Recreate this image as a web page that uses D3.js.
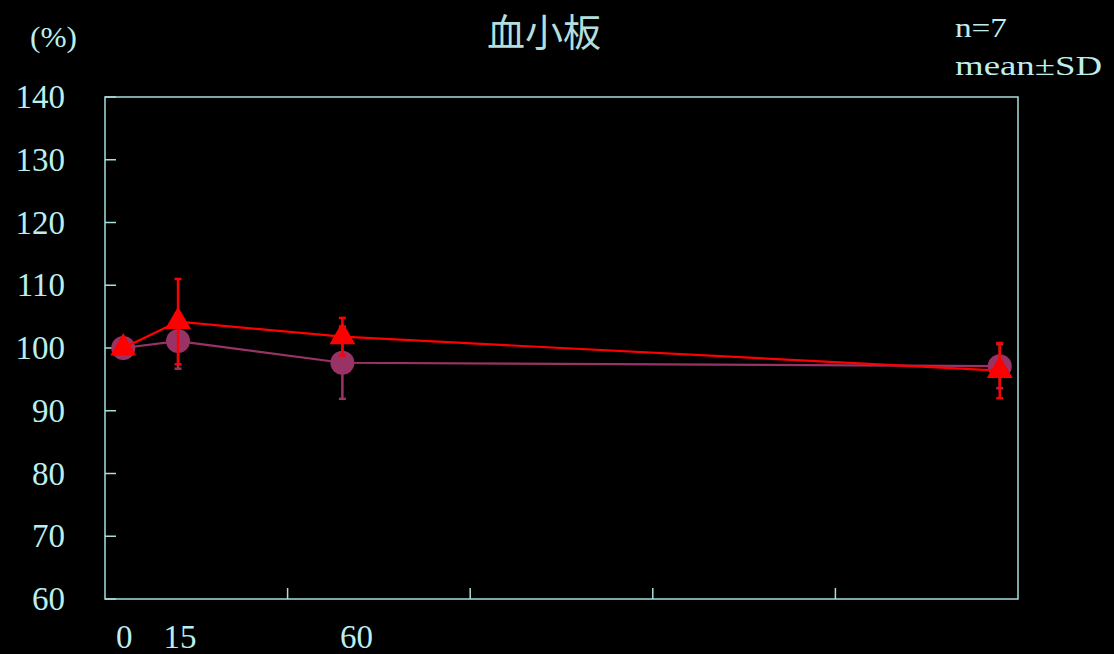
<!DOCTYPE html>
<html>
<head>
<meta charset="utf-8">
<script src="https://cdn.jsdelivr.net/npm/d3@7/dist/d3.min.js"></script>
<style>
  html, body { margin: 0; padding: 0; background: #000; }
  svg { display: block; }
</style>
</head>
<body>
<svg id="chart" width="1114" height="654"></svg>
<script>
// Time points (min) and tick labels
const times = [0, 15, 60, 240];
const xLabels = [0, 15, 60];
const yTicks = [60, 70, 80, 90, 100, 110, 120, 130, 140];

// Series: circles (maroon) and triangles (red), mean and SD in %
const circleMean = [100, 101.1, 97.65, 97.1];
const circleSD   = [0, 4.4, 5.75, 3.5];
const triMean    = [100, 104.2, 101.8, 96.4];
const triSD      = [0, 6.8, 3.0, 4.4];

const axisColor = "#a8dede";
const textColor = "#bdeeee";
const circleColor = "#993366";
const triColor = "#ff0000";
const serif = "Liberation Serif";

const svg = d3.select("#chart");
const plotL = 105, plotR = 1018, plotT = 97, plotB = 599;

const x = d3.scaleLinear().domain([-5, 245]).range([plotL, plotR]);
const y = d3.scaleLinear().domain([60, 140]).range([plotB, plotT]);

// Frame
svg.append("rect")
  .attr("x", plotL).attr("y", plotT)
  .attr("width", plotR - plotL).attr("height", plotB - plotT)
  .attr("fill", "none").attr("stroke", axisColor).attr("stroke-width", 1.5);

// Y axis ticks (inward) and labels
svg.append("g").selectAll("line").data(yTicks).join("line")
  .attr("x1", plotL).attr("x2", plotL + 11)
  .attr("y1", d => y(d)).attr("y2", d => y(d))
  .attr("stroke", axisColor).attr("stroke-width", 1.5);

svg.append("g").selectAll("text").data(yTicks).join("text")
  .attr("x", 65).attr("y", d => y(d))
  .attr("dy", "0.34em")
  .attr("text-anchor", "end")
  .attr("font-family", serif)
  .attr("font-size", 33)
  .attr("fill", textColor)
  .text(d => d);

// X axis ticks: five equal divisions of the axis
const xTickVals = d3.range(1, 5).map(i => -5 + i * 50);
svg.append("g").selectAll("line").data(xTickVals).join("line")
  .attr("x1", d => x(d)).attr("x2", d => x(d))
  .attr("y1", plotB).attr("y2", plotB - 11)
  .attr("stroke", axisColor).attr("stroke-width", 1.5);

const labelNudge = { 0: 1, 15: 2, 60: 14 };
svg.append("g").selectAll("text").data(xLabels).join("text")
  .attr("x", d => x(d) + labelNudge[d]).attr("y", 648)
  .attr("text-anchor", "middle")
  .attr("font-family", serif)
  .attr("font-size", 33)
  .attr("fill", textColor)
  .text(d => d);

// Titles and annotations
svg.append("text")
  .attr("x", 544).attr("y", 46)
  .attr("text-anchor", "middle")
  .attr("font-family", "Noto Sans CJK JP")
  .attr("font-size", 38)
  .attr("fill", "#b4dede")
  .text("血小板");

svg.append("text")
  .attr("x", 30).attr("y", 47)
  .attr("font-family", serif)
  .attr("font-size", 30)
  .attr("textLength", 47).attr("lengthAdjust", "spacingAndGlyphs")
  .attr("fill", textColor)
  .text("(%)");

svg.append("text")
  .attr("x", 955).attr("y", 37)
  .attr("font-family", serif)
  .attr("font-size", 27)
  .attr("textLength", 52).attr("lengthAdjust", "spacingAndGlyphs")
  .attr("fill", textColor)
  .text("n=7");

svg.append("text")
  .attr("x", 955).attr("y", 75)
  .attr("font-family", serif)
  .attr("font-size", 27)
  .attr("textLength", 147).attr("lengthAdjust", "spacingAndGlyphs")
  .attr("fill", textColor)
  .text("mean±SD");

const rows = (means, sds) => times.map((t, i) => ({ t, m: means[i], sd: sds[i] }));
const circles = rows(circleMean, circleSD);
const tris = rows(triMean, triSD);

const line = d3.line().x(d => x(d.t)).y(d => y(d.m));

function drawErrors(g, data, color) {
  const withSD = data.filter(d => d.sd > 0);
  g.selectAll("line.err").data(withSD).join("line").attr("class", "err")
    .attr("x1", d => x(d.t)).attr("x2", d => x(d.t))
    .attr("y1", d => y(d.m + d.sd)).attr("y2", d => y(d.m - d.sd))
    .attr("stroke", color).attr("stroke-width", 2.5);
  const caps = withSD.flatMap(d => [d.m + d.sd, d.m - d.sd].map(v => ({ t: d.t, v })));
  g.selectAll("line.cap").data(caps).join("line").attr("class", "cap")
    .attr("x1", d => x(d.t) - 3.5).attr("x2", d => x(d.t) + 3.5)
    .attr("y1", d => y(d.v)).attr("y2", d => y(d.v))
    .attr("stroke", color).attr("stroke-width", 2.5);
}

// Circle series
const gc = svg.append("g");
drawErrors(gc, circles, circleColor);
gc.append("path").datum(circles)
  .attr("d", line).attr("fill", "none")
  .attr("stroke", circleColor).attr("stroke-width", 2.2);
gc.selectAll("circle").data(circles).join("circle")
  .attr("cx", d => x(d.t)).attr("cy", d => y(d.m)).attr("r", 12)
  .attr("fill", circleColor);

// Triangle series
const gt = svg.append("g");
drawErrors(gt, tris, triColor);
gt.append("path").datum(tris)
  .attr("d", line).attr("fill", "none")
  .attr("stroke", triColor).attr("stroke-width", 2.2);
const tri = d3.symbol().type(d3.symbolTriangle).size(290);
gt.selectAll("path.tri").data(tris).join("path").attr("class", "tri")
  .attr("transform", d => `translate(${x(d.t)},${y(d.m)})`)
  .attr("d", tri)
  .attr("fill", triColor);
</script>
</body>
</html>
